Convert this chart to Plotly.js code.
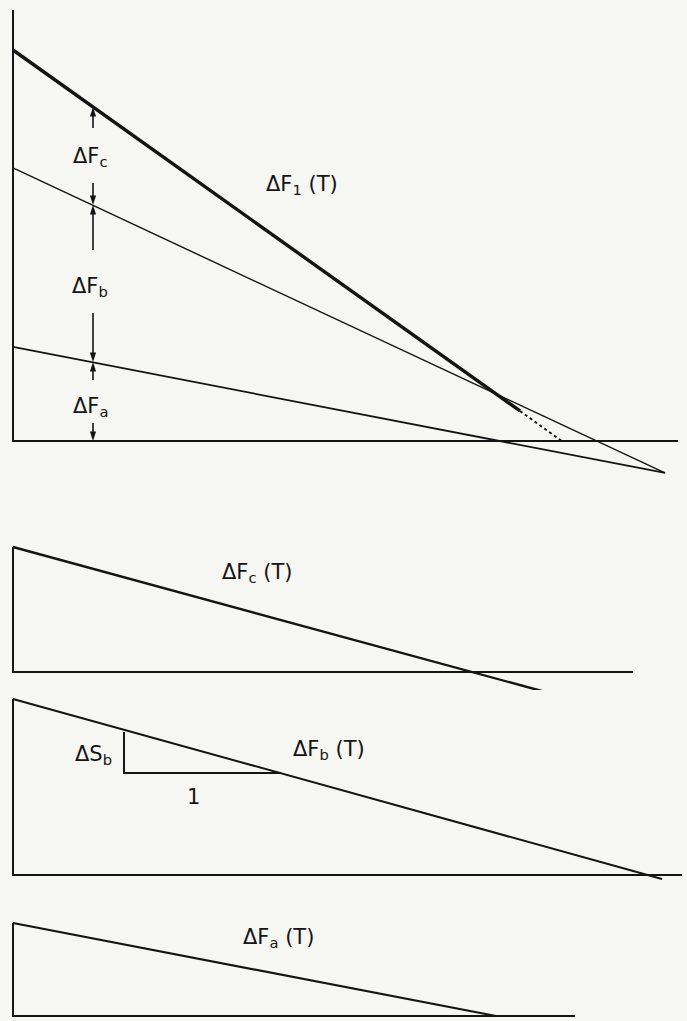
<!DOCTYPE html>
<html><head><meta charset="utf-8">
<script src="https://cdn.plot.ly/plotly-3.0.1.min.js"></script>
<style>html,body{margin:0;padding:0;background:#f6f6f3;}</style>
</head><body><div id="chart" style="width:687px;height:1021px;"></div>
<script>
// ---- data (T = temperature, F = free energy change; arbitrary schematic units) ----
// Top panel
const topAxisT = [0, 0, 66.5];
const topAxisF = [43.1, 0, 0];
const lineFaT = [0, 65.2];
const lineFaF = [9.4, -3.2];
const lineFabT = [0, 65.2];
const lineFabF = [27.3, -3.2];
const lineF1T = [0, 50.7];
const lineF1F = [39.1, 3.0];
const lineF1tailT = [50.7, 55.0];
const lineF1tailF = [3.0, -0.1];
// arrows in top panel: at T = arrowT, from F to F
const arrowT = 8.0;
const arrowFrom = [31.3, 25.8, 19.1, 12.8, 6.1, 1.8];
const arrowTo   = [33.4, 23.6, 23.6, 7.9, 7.9, 0];
const topLabels = ["ΔF<sub>c</sub>", "ΔF<sub>b</sub>", "ΔF<sub>a</sub>", "ΔF<sub>1</sub> (T)"];
const topLabelT = [7.7, 7.7, 7.7, 28.9];
const topLabelF = [28.4, 15.4, 3.4, 25.6];
// Panel c
const cAxisT = [0, 0, 62.0];
const cAxisF = [12.5, 0, 0];
const cLineT = [0, 53.6];
const cLineF = [12.5, -2.1];
const cLabel = "ΔF<sub>c</sub> (T)", cLabelT = 24.4, cLabelF = 9.9;
// Panel b
const bAxisT = [0, 0, 66.9];
const bAxisF = [17.6, 0, 0];
const bLineT = [0, 64.9];
const bLineF = [17.6, -0.4];
const bSlopeT = [11.1, 11.1, 26.8];
const bSlopeF = [14.3, 10.2, 10.2];
const bLabels = ["ΔS<sub>b</sub>", "1", "ΔF<sub>b</sub> (T)"];
const bLabelT = [8.0, 18.0, 31.6];
const bLabelF = [12.0, 7.8, 12.5];
// Panel a
const aAxisT = [0, 0, 56.2];
const aAxisF = [9.3, 0, 0];
const aLineT = [0, 48.3];
const aLineF = [9.3, 0];
const aLabel = "ΔF<sub>a</sub> (T)", aLabelT = 26.5, aLabelF = 7.8;

// ---- drawing ----
const ink = '#141414';
const font = {family: 'DejaVu Sans, sans-serif', size: 21, color: ink};
function ln(x, y, xa, ya, w, dash) {
  return {type: 'scatter', mode: 'lines', x: x, y: y, xaxis: xa, yaxis: ya,
          line: {color: ink, width: w, dash: dash || 'solid'}, hoverinfo: 'skip', showlegend: false};
}
const traces = [
  ln(topAxisT, topAxisF, 'x', 'y', 2),
  ln(lineFaT, lineFaF, 'x', 'y', 1.8),
  ln(lineFabT, lineFabF, 'x', 'y', 1.4),
  ln(lineF1T, lineF1F, 'x', 'y', 3.4),
  ln(lineF1tailT, lineF1tailF, 'x', 'y', 2, 'dot'),
  ln(cAxisT, cAxisF, 'x2', 'y2', 2),
  ln(cLineT, cLineF, 'x2', 'y2', 2.4),
  ln(bAxisT, bAxisF, 'x3', 'y3', 2),
  ln(bLineT, bLineF, 'x3', 'y3', 2),
  ln(bSlopeT, bSlopeF, 'x3', 'y3', 2),
  ln(aAxisT, aAxisF, 'x4', 'y4', 2),
  ln(aLineT, aLineF, 'x4', 'y4', 2.2)
];
// dimension arrows: shaft + arrowhead marker pointing along the shaft, tip on the line
arrowFrom.forEach((f, i) => {
  traces.push({type: 'scatter', mode: 'lines+markers', x: [arrowT, arrowT], y: [f, arrowTo[i]],
    xaxis: 'x', yaxis: 'y', line: {color: ink, width: 1.6},
    marker: {symbol: ['line-ew', 'arrow'], angleref: 'previous', size: 10, color: ink,
             line: {width: 0, color: ink}},
    hoverinfo: 'skip', showlegend: false});
});

const annotations = [];
topLabels.forEach((t, i) => annotations.push({xref: 'x', yref: 'y', x: topLabelT[i], y: topLabelF[i],
  text: t, showarrow: false, font: font}));
annotations.push({xref: 'x2', yref: 'y2', x: cLabelT, y: cLabelF, text: cLabel, showarrow: false, font: font});
bLabels.forEach((t, i) => annotations.push({xref: 'x3', yref: 'y3', x: bLabelT[i], y: bLabelF[i],
  text: t, showarrow: false, font: font}));
annotations.push({xref: 'x4', yref: 'y4', x: aLabelT, y: aLabelF, text: aLabel, showarrow: false, font: font});

const xr = [-1.3, 67.4];
function ax(range, domain) { return {range: range, domain: domain, visible: false, fixedrange: true}; }
const layout = {
  width: 687, height: 1021, margin: {l: 0, r: 0, t: 0, b: 0},
  paper_bgcolor: '#f6f6f3', plot_bgcolor: '#f6f6f3', showlegend: false,
  xaxis: ax(xr, [0, 1]), yaxis: ax([-4.9, 44.1], [0.5201, 1]),
  xaxis2: Object.assign(ax(xr, [0, 1]), {anchor: 'y2'}), yaxis2: Object.assign(ax([-2.8, 15.2], [0.3144, 0.4907]), {anchor: 'x2'}),
  xaxis3: Object.assign(ax(xr, [0, 1]), {anchor: 'y3'}), yaxis3: Object.assign(ax([-1.5, 18.5], [0.1283, 0.3242]), {anchor: 'x3'}),
  xaxis4: Object.assign(ax(xr, [0, 1]), {anchor: 'y4'}), yaxis4: Object.assign(ax([-0.5, 11.1], [0, 0.1136]), {anchor: 'x4'}),
  annotations: annotations
};
Plotly.newPlot('chart', traces, layout, {displayModeBar: false, staticPlot: true});
</script></body></html>
